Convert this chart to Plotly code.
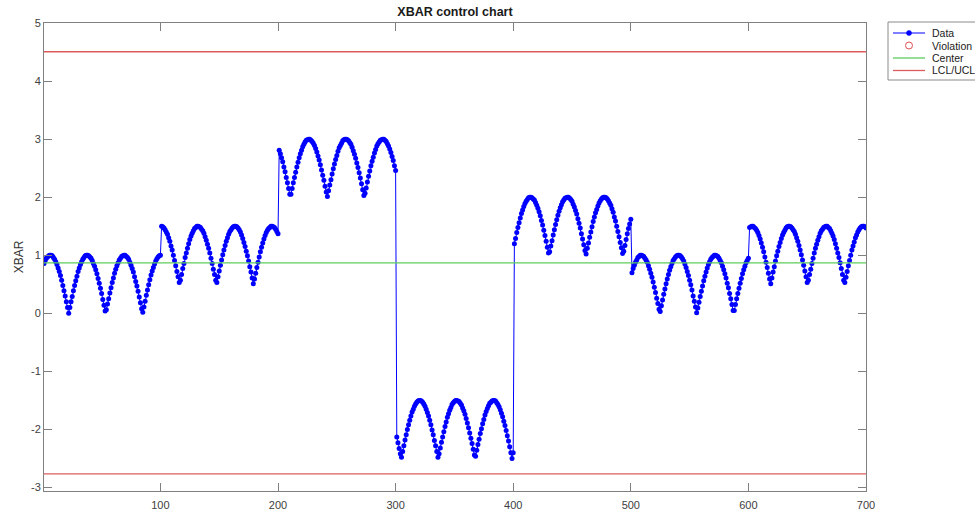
import plotly.graph_objects as go

# ---------------- data ----------------
SEG1 = [0.86,0.91,0.95,0.97,0.99,1.00,1.00,0.99,0.96,0.93,0.89,0.84,0.78,0.72,0.65,0.57,0.48,0.39,0.30,0.20,0.10,0.00,
        0.10,0.20,0.29,0.39,0.48,0.56,0.64,0.72,0.78,0.84,0.89,0.93,0.96,0.99,1.00,1.00,0.99,0.97,0.95,0.91,0.86,0.81,0.75,0.68,0.60,0.52,0.43,0.34,0.24,0.14,0.04,
        0.06,0.16,0.25,0.35,0.44,0.53,0.61,0.69,0.76,0.82,0.87,0.92,0.95,0.98,0.99,1.00,1.00,0.98,0.96,0.93,0.88,0.83,0.77,0.71,0.63,0.55,0.47,0.38,0.28,0.18,0.08,
        0.02,0.11,0.21,0.31,0.40,0.49,0.58,0.66,0.73,0.79,0.85,0.90,0.94,0.97,0.99,1.00]
SEG2 = [1.50,1.49,1.47,1.44,1.40,1.36,1.30,1.24,1.16,1.09,1.00,0.91,0.82,0.72,0.63,0.53,
        0.57,0.67,0.77,0.86,0.96,1.04,1.12,1.20,1.27,1.33,1.38,1.42,1.46,1.48,1.50,1.50,1.49,1.48,1.45,1.42,1.38,1.32,1.26,1.19,1.12,1.04,0.95,0.86,0.76,0.67,0.57,
        0.53,0.63,0.73,0.83,0.92,1.01,1.09,1.17,1.24,1.30,1.36,1.41,1.44,1.47,1.49,1.50,1.50,1.49,1.47,1.44,1.40,1.35,1.29,1.22,1.15,1.07,0.99,0.90,0.80,0.71,0.61,0.51,
        0.59,0.69,0.79,0.88,0.97,1.06,1.14,1.21,1.28,1.34,1.39,1.43,1.46,1.48,1.50,1.50,1.49,1.48,1.45,1.41,1.37]
SEG3 = [2.81,2.75,2.68,2.61,2.52,2.44,2.34,2.25,2.15,2.05,
        2.05,2.15,2.25,2.34,2.43,2.52,2.60,2.68,2.75,2.81,2.87,2.91,2.95,2.98,2.99,3.00,3.00,2.98,2.96,2.93,2.89,2.84,2.78,2.71,2.64,2.56,2.47,2.38,2.29,2.19,2.09,
        2.01,2.11,2.21,2.30,2.40,2.49,2.57,2.65,2.72,2.79,2.85,2.89,2.93,2.97,2.99,3.00,3.00,2.99,2.97,2.94,2.91,2.86,2.80,2.74,2.67,2.59,2.51,2.42,2.33,2.23,2.13,2.03,
        2.07,2.16,2.26,2.36,2.45,2.54,2.62,2.69,2.76,2.82,2.88,2.92,2.95,2.98,2.99,3.00,3.00,2.98,2.96,2.92,2.88,2.83,2.77,2.70,2.63,2.54,2.46]
SEG4 = [-2.13,-2.23,-2.33,-2.42,
        -2.48,-2.38,-2.28,-2.18,-2.09,-2.00,-1.92,-1.84,-1.77,-1.70,-1.65,-1.60,-1.56,-1.53,-1.51,-1.50,-1.50,-1.51,-1.53,-1.56,-1.60,-1.65,-1.71,-1.77,-1.84,-1.92,-2.01,-2.09,-2.19,-2.28,-2.38,-2.48,
        -2.42,-2.32,-2.22,-2.13,-2.04,-1.95,-1.87,-1.79,-1.73,-1.67,-1.62,-1.57,-1.54,-1.52,-1.50,-1.50,-1.51,-1.52,-1.55,-1.58,-1.63,-1.68,-1.74,-1.81,-1.89,-1.97,-2.06,-2.15,-2.24,-2.34,-2.44,
        -2.46,-2.36,-2.26,-2.17,-2.07,-1.99,-1.90,-1.83,-1.75,-1.69,-1.64,-1.59,-1.55,-1.53,-1.51,-1.50,-1.50,-1.51,-1.54,-1.57,-1.61,-1.66,-1.72,-1.78,-1.86,-1.93,-2.02,-2.11,-2.20,-2.30,-2.40,-2.50,
        -2.40]
SEG5 = [1.20,1.29,1.39,1.48,1.56,1.64,1.72,1.78,1.84,1.89,1.93,1.96,1.99,2.00,2.00,1.99,1.97,1.95,1.91,1.86,1.81,1.75,1.68,1.60,1.52,1.43,1.34,1.24,1.14,1.04,
        1.06,1.16,1.25,1.35,1.44,1.53,1.61,1.69,1.76,1.82,1.87,1.92,1.95,1.98,1.99,2.00,2.00,1.98,1.96,1.93,1.88,1.83,1.77,1.71,1.63,1.55,1.47,1.37,1.28,1.18,1.08,
        1.02,1.12,1.21,1.31,1.40,1.49,1.58,1.66,1.73,1.79,1.85,1.90,1.94,1.97,1.99,2.00,2.00,1.99,1.97,1.94,1.90,1.86,1.80,1.74,1.66,1.59,1.50,1.41,1.32,1.22,1.13,1.03,
        1.07,1.17,1.27,1.37,1.46,1.54,1.62]
SEG6 = [0.70,0.77,0.83,0.88,0.92,0.96,0.98,1.00,1.00,0.99,0.98,0.95,0.92,0.88,0.82,0.76,0.69,0.62,0.54,0.45,0.36,0.26,0.17,0.07,
        0.03,0.13,0.23,0.33,0.42,0.51,0.59,0.67,0.74,0.80,0.86,0.91,0.94,0.97,0.99,1.00,1.00,0.99,0.97,0.94,0.90,0.85,0.79,0.72,0.65,0.57,0.49,0.40,0.30,0.21,0.11,0.01,
        0.09,0.19,0.29,0.38,0.47,0.56,0.64,0.71,0.78,0.84,0.89,0.93,0.96,0.98,1.00,1.00,0.99,0.98,0.95,0.91,0.87,0.81,0.75,0.68,0.61,0.52,0.44,0.34,0.25,0.15,0.05,
        0.05,0.15,0.25,0.34,0.43,0.52,0.60,0.68,0.75,0.81,0.87,0.91,0.95]
SEG7 = [1.48,1.49,1.50,1.50,1.48,1.46,1.43,1.39,1.34,1.28,1.21,1.14,1.06,0.97,0.88,0.79,0.69,0.59,
        0.51,0.61,0.71,0.80,0.90,0.99,1.07,1.15,1.22,1.29,1.35,1.39,1.43,1.47,1.49,1.50,1.50,1.49,1.47,1.44,1.41,1.36,1.30,1.24,1.17,1.09,1.01,0.92,0.83,0.73,0.63,0.53,
        0.57,0.67,0.76,0.86,0.95,1.04,1.12,1.19,1.26,1.32,1.38,1.42,1.45,1.48,1.49,1.50,1.50,1.48,1.46,1.42,1.38,1.33,1.27,1.20,1.12,1.04,0.96,0.87,0.77,0.67,0.57,
        0.53,0.62,0.72,0.82,0.91,1.00,1.09,1.16,1.23,1.30,1.35,1.40,1.44,1.47,1.49,1.50,1.50,1.49,1.47]

CENTER = 0.87
UCL = 4.505
LCL = -2.765
VIOLATION_X = []
VIOLATION_Y = []

X_TICKS = [100, 200, 300, 400, 500, 600, 700]
Y_TICKS = [-3, -2, -1, 0, 1, 2, 3, 4, 5]
Y_TICK_TEXT = ["-3", "-2", "-1", "0", "1", "2", "3", "4", "5"]
LEGEND_LABELS = ["Data", "Violation", "Center", "LCL/UCL"]

# ---------------- figure ----------------
data_y = SEG1 + SEG2 + SEG3 + SEG4 + SEG5 + SEG6 + SEG7
sample = list(range(1, len(data_y) + 1))
n = len(data_y)

BLUE = "#0000ff"
GREEN = "#5ccc5c"
RED = "#dc5c5c"
FONT = "Liberation Sans, Arial, sans-serif"

fig = go.Figure()
fig.add_trace(go.Scatter(x=sample, y=data_y, mode="lines+markers", name="Data",
                         line=dict(color=BLUE, width=1),
                         marker=dict(color=BLUE, size=5), showlegend=False))
fig.add_trace(go.Scatter(x=VIOLATION_X, y=VIOLATION_Y, mode="markers", name="Violation",
                         marker=dict(symbol="circle-open", color="red", size=7), showlegend=False))
fig.add_trace(go.Scatter(x=[1, n], y=[CENTER, CENTER], mode="lines", name="Center",
                         line=dict(color=GREEN, width=1.3), showlegend=False))
fig.add_trace(go.Scatter(x=[1, n, None, 1, n], y=[UCL, UCL, None, LCL, LCL], mode="lines",
                         name="LCL/UCL", line=dict(color=RED, width=1.3), showlegend=False))

# plot area geometry in pixels
W, H = 975, 510
L, R, T, B = 44, 109, 23, 19
PW, PH = W - L - R, H - T - B

def px(xp):
    return (xp - L) / PW

def py(yp):
    return (H - B - yp) / PH

# manual compact legend (MATLAB style)
shapes = []
annotations = []
shapes.append(dict(type="rect", xref="paper", yref="paper",
                   x0=px(888), x1=px(990), y0=py(80), y1=py(22),
                   line=dict(color="#8a8a8a", width=1), fillcolor="white", layer="above"))
rows = [33, 45.5, 58, 70.5]
lx0, lx1, lxm, ltx = 893, 925, 909, 930
# Data
shapes.append(dict(type="line", xref="paper", yref="paper", x0=px(lx0), x1=px(lx1),
                   y0=py(rows[0]), y1=py(rows[0]), line=dict(color=BLUE, width=1), layer="above"))
shapes.append(dict(type="circle", xref="paper", yref="paper", xsizemode="pixel", ysizemode="pixel",
                   xanchor=px(lxm), yanchor=py(rows[0]), x0=-2.5, x1=2.5, y0=-2.5, y1=2.5,
                   fillcolor=BLUE, line=dict(color=BLUE, width=0.5), layer="above"))
# Violation
shapes.append(dict(type="circle", xref="paper", yref="paper", xsizemode="pixel", ysizemode="pixel",
                   xanchor=px(lxm), yanchor=py(rows[1]), x0=-3.5, x1=3.5, y0=-3.5, y1=3.5,
                   fillcolor="rgba(0,0,0,0)", line=dict(color="#e05050", width=1), layer="above"))
# Center
shapes.append(dict(type="line", xref="paper", yref="paper", x0=px(lx0), x1=px(lx1),
                   y0=py(rows[2]), y1=py(rows[2]), line=dict(color=GREEN, width=1.3), layer="above"))
# LCL/UCL
shapes.append(dict(type="line", xref="paper", yref="paper", x0=px(lx0), x1=px(lx1),
                   y0=py(rows[3]), y1=py(rows[3]), line=dict(color=RED, width=1.3), layer="above"))
for lab, r in zip(LEGEND_LABELS, rows):
    annotations.append(dict(text=lab, xref="paper", yref="paper", x=px(ltx), y=py(r),
                            xanchor="left", yanchor="middle", showarrow=False,
                            font=dict(family=FONT, size=10.5, color="#1a1a1a")))

fig.update_layout(
    width=W, height=H,
    margin=dict(l=L, r=R, t=T, b=B, autoexpand=False),
    paper_bgcolor="white", plot_bgcolor="white",
    showlegend=False,
    title=dict(text="<b>XBAR control chart</b>", x=(L + PW / 2) / W, xanchor="center",
               y=1 - 12 / H, yanchor="middle", automargin=False,
               font=dict(family=FONT, size=12.5, color="#1a1a1a")),
    font=dict(family=FONT, size=11, color="#404040"),
    shapes=shapes, annotations=annotations,
)
fig.update_xaxes(range=[1, n], tickvals=X_TICKS, ticks="inside", ticklen=8, tickcolor="#808080",
                 showline=True, linecolor="#808080", linewidth=1, mirror="ticks",
                 showgrid=False, zeroline=False, automargin=False, ticklabelstandoff=4,
                 tickfont=dict(size=11, color="#404040"))
fig.update_yaxes(range=[-3.06, 5.0], tickvals=Y_TICKS, ticktext=Y_TICK_TEXT,
                 ticks="inside", ticklen=8, tickcolor="#808080",
                 showline=True, linecolor="#808080", linewidth=1, mirror="ticks",
                 showgrid=False, zeroline=False, automargin=False,
                 tickfont=dict(size=11, color="#404040"),
                 title=dict(text="XBAR", font=dict(size=12, color="#333333"), standoff=4))

fig.write_html("out.html")
